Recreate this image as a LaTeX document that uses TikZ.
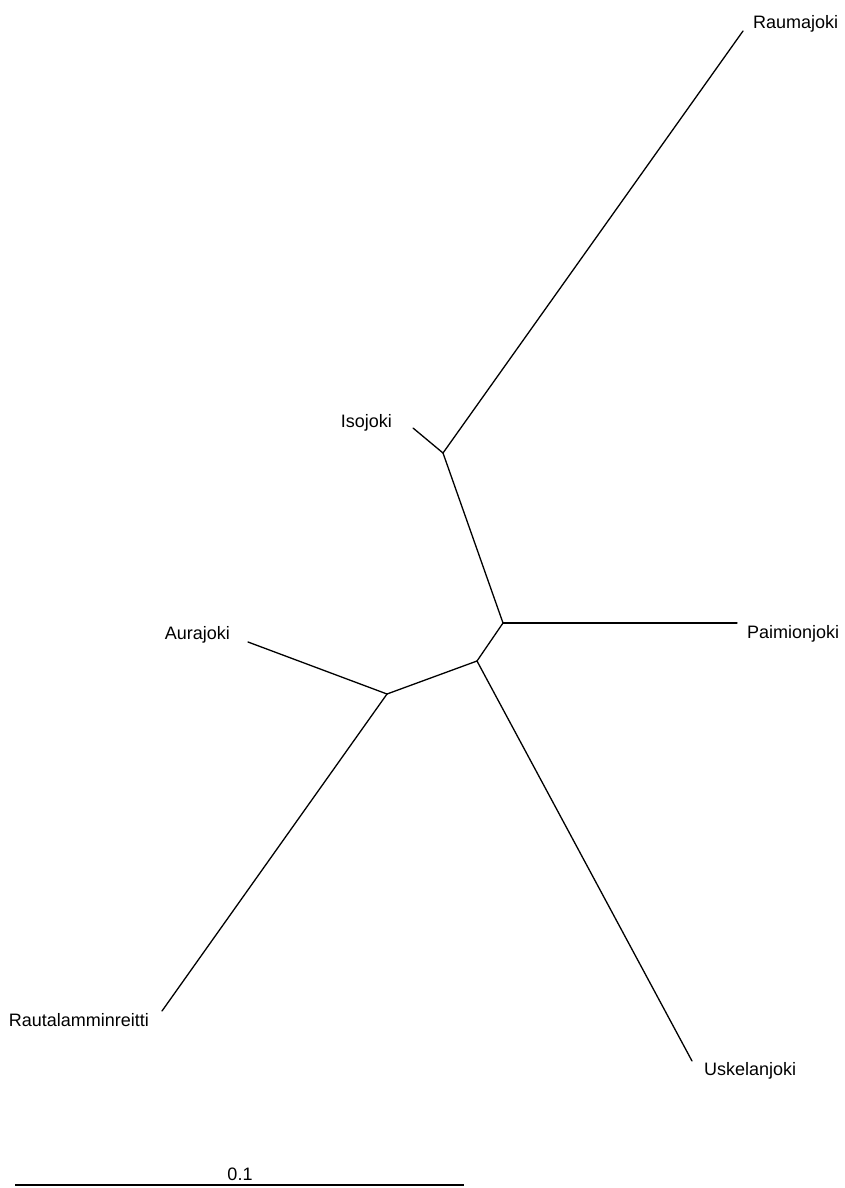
\documentclass[tikz,border=0pt]{standalone}
\usepackage{fontspec}
\setmainfont{Liberation Sans}
\usepackage{tikz}

\begin{document}
\begin{tikzpicture}[
      x=1pt, y=-1pt,
      branch/.style={line width=1.3pt, line cap=round},
      taxon/.style={inner sep=0pt, font=\fontsize{18}{21}\selectfont},
      scalebar/.style={line width=2pt},
    ]
    \useasboundingbox (0,0) rectangle (845,1188);

    % leaves and inner nodes of the tree
    \coordinate (rau) at (743,31);
    \coordinate (iso) at (413,428);
    \coordinate (pai) at (737,623);
    \coordinate (usk) at (692,1061);
    \coordinate (aur) at (248,642);
    \coordinate (rtl) at (162,1011);
    \coordinate (j1) at (443,453);
    \coordinate (j2) at (503,623);
    \coordinate (j3) at (477,661);
    \coordinate (j4) at (387,694);

    \draw[branch] (rau) -- (j1);
    \draw[branch] (iso) -- (j1);
    \draw[branch] (j1)  -- (j2);
    \draw[branch] (j2)  -- (pai);
    \draw[branch] (j2)  -- (j3);
    \draw[branch] (j3)  -- (usk);
    \draw[branch] (j3)  -- (j4);
    \draw[branch] (j4)  -- (aur);
    \draw[branch] (j4)  -- (rtl);

    \node[taxon, anchor=base west] (lrau) at (753,28.5)   {Raumajoki};
    \node[taxon, anchor=base east] (liso) at (392,427.5)  {Isojoki};
    \node[taxon, anchor=base west] (lpai) at (747,638.5)  {Paimionjoki};
    \node[taxon, anchor=base west] (lusk) at (704,1075.5) {Uskelanjoki};
    \node[taxon, anchor=base east] (laur) at (230,639.5)  {Aurajoki};
    \node[taxon, anchor=base east] (lrtl) at (149,1026.5) {Rautalamminreitti};

    % scale
    \coordinate (sbl) at (15,1185);
    \coordinate (sbr) at (464,1185);
    \draw[scalebar] (sbl) -- (sbr);
    \node[taxon, anchor=base] (lsb) at (240,1180.5) {0.1};
  \end{tikzpicture}
\end{document}
